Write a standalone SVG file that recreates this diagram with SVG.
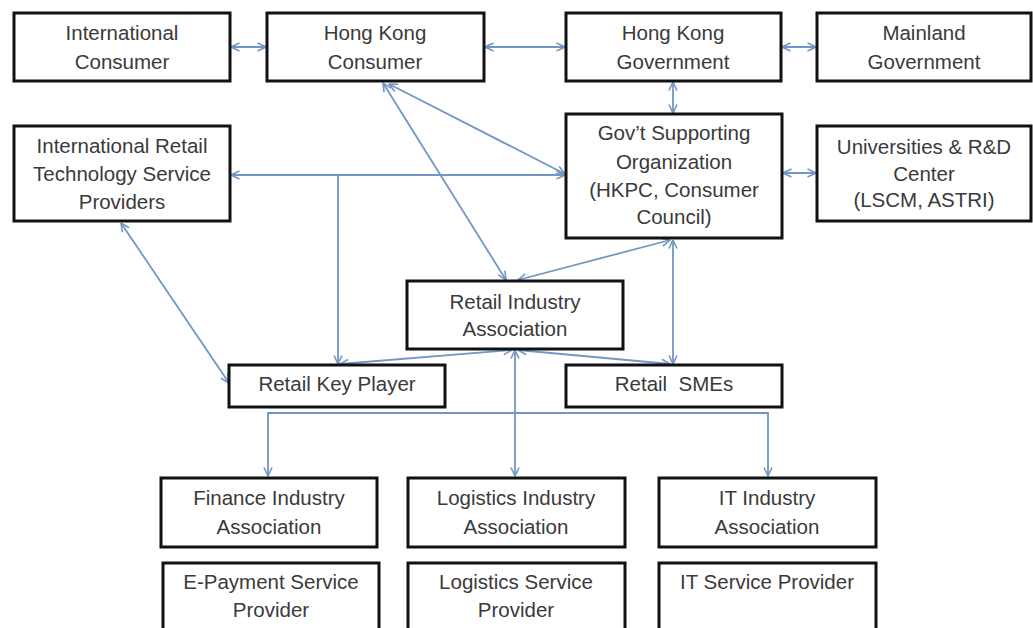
<svg xmlns="http://www.w3.org/2000/svg" width="1033" height="628" viewBox="0 0 1033 628">
<defs>
<style>
.box{fill:#ffffff;stroke:#111111;stroke-width:3}
.t{font-family:"Liberation Sans",Arial,sans-serif;font-size:20.5px;fill:#3a3a3a;text-anchor:middle;white-space:pre}
.c{fill:none;stroke:#7397c4;stroke-width:1.8}
</style>
<marker id="ah" viewBox="0 0 10 10" refX="9.5" refY="5" markerWidth="10" markerHeight="10" markerUnits="userSpaceOnUse" orient="auto-start-reverse">
<path d="M1,1 L9.5,5 L1,9" fill="none" stroke="#7397c4" stroke-width="1.6"/>
</marker>
</defs>
<rect width="1033" height="628" fill="#ffffff"/>
<g id="connectors">
<line class="c" x1="231" y1="47" x2="266" y2="47" marker-start="url(#ah)" marker-end="url(#ah)"/>
<line class="c" x1="485" y1="47" x2="565" y2="47" marker-start="url(#ah)" marker-end="url(#ah)"/>
<line class="c" x1="782" y1="47" x2="816" y2="47" marker-start="url(#ah)" marker-end="url(#ah)"/>
<line class="c" x1="673" y1="82" x2="673" y2="113" marker-start="url(#ah)" marker-end="url(#ah)"/>
<line class="c" x1="783" y1="173" x2="816" y2="173" marker-start="url(#ah)" marker-end="url(#ah)"/>
<line class="c" x1="231" y1="175" x2="565" y2="175" marker-start="url(#ah)" marker-end="url(#ah)"/>
<line class="c" x1="338" y1="175" x2="338" y2="364" marker-end="url(#ah)"/>
<line class="c" x1="389" y1="84" x2="565" y2="174" marker-start="url(#ah)" marker-end="url(#ah)"/>
<line class="c" x1="383" y1="83" x2="506" y2="280" marker-start="url(#ah)" marker-end="url(#ah)"/>
<line class="c" x1="670" y1="240" x2="518" y2="280" marker-start="url(#ah)" marker-end="url(#ah)"/>
<line class="c" x1="673" y1="240" x2="673" y2="364" marker-start="url(#ah)" marker-end="url(#ah)"/>
<line class="c" x1="121" y1="223" x2="229" y2="383" marker-start="url(#ah)" marker-end="url(#ah)"/>
<line class="c" x1="512" y1="350" x2="340" y2="364" marker-start="url(#ah)" marker-end="url(#ah)"/>
<line class="c" x1="518" y1="350" x2="670" y2="364" marker-start="url(#ah)" marker-end="url(#ah)"/>
<line class="c" x1="515" y1="350" x2="515" y2="476" marker-start="url(#ah)" marker-end="url(#ah)"/>
<polyline class="c" points="268,476 268,413 768,413 768,476" marker-start="url(#ah)" marker-end="url(#ah)"/>
</g>
<g id="intl-consumer"><rect class="box" x="14" y="13" width="216" height="68"/><text class="t" x="122" y="40">International</text><text class="t" x="122" y="69">Consumer</text></g>
<g id="hk-consumer"><rect class="box" x="267" y="13" width="217" height="68"/><text class="t" x="375" y="40">Hong Kong</text><text class="t" x="375" y="69">Consumer</text></g>
<g id="hk-government"><rect class="box" x="566" y="13" width="215" height="68"/><text class="t" x="673" y="40">Hong Kong</text><text class="t" x="673" y="69">Government</text></g>
<g id="mainland-government"><rect class="box" x="817" y="13" width="214" height="68"/><text class="t" x="924" y="40">Mainland</text><text class="t" x="924" y="69">Government</text></g>
<g id="intl-retail-tech"><rect class="box" x="14" y="126" width="216" height="95"/><text class="t" x="122" y="153">International Retail</text><text class="t" x="122" y="181">Technology Service</text><text class="t" x="122" y="209">Providers</text></g>
<g id="govt-supporting"><rect class="box" x="566" y="114" width="216" height="124"/><text class="t" x="674" y="140">Gov’t Supporting</text><text class="t" x="674" y="169">Organization</text><text class="t" x="674" y="197">(HKPC, Consumer</text><text class="t" x="674" y="224">Council)</text></g>
<g id="universities"><rect class="box" x="817" y="126" width="214" height="95"/><text class="t" x="924" y="154">Universities &amp; R&amp;D</text><text class="t" x="924" y="181">Center</text><text class="t" x="924" y="207">(LSCM, ASTRI)</text></g>
<g id="retail-industry-association"><rect class="box" x="407" y="281" width="216" height="68"/><text class="t" x="515" y="309">Retail Industry</text><text class="t" x="515" y="336">Association</text></g>
<g id="retail-key-player"><rect class="box" x="229" y="365" width="216" height="42"/><text class="t" x="337" y="391">Retail Key Player</text></g>
<g id="retail-smes"><rect class="box" x="566" y="365" width="216" height="42"/><text class="t" x="674" y="391">Retail  SMEs</text></g>
<g id="finance-industry"><rect class="box" x="161" y="478" width="216" height="69"/><text class="t" x="269" y="505">Finance Industry</text><text class="t" x="269" y="534">Association</text></g>
<g id="logistics-industry"><rect class="box" x="408" y="478" width="217" height="69"/><text class="t" x="516" y="505">Logistics Industry</text><text class="t" x="516" y="534">Association</text></g>
<g id="it-industry"><rect class="box" x="659" y="478" width="217" height="69"/><text class="t" x="767" y="505">IT Industry</text><text class="t" x="767" y="534">Association</text></g>
<g id="epayment-provider"><rect class="box" x="163" y="563" width="216" height="80"/><text class="t" x="271" y="589">E-Payment Service</text><text class="t" x="271" y="617">Provider</text></g>
<g id="logistics-provider"><rect class="box" x="408" y="563" width="217" height="80"/><text class="t" x="516" y="589">Logistics Service</text><text class="t" x="516" y="617">Provider</text></g>
<g id="it-provider"><rect class="box" x="659" y="563" width="217" height="80"/><text class="t" x="767" y="589">IT Service Provider</text></g>
</svg>
